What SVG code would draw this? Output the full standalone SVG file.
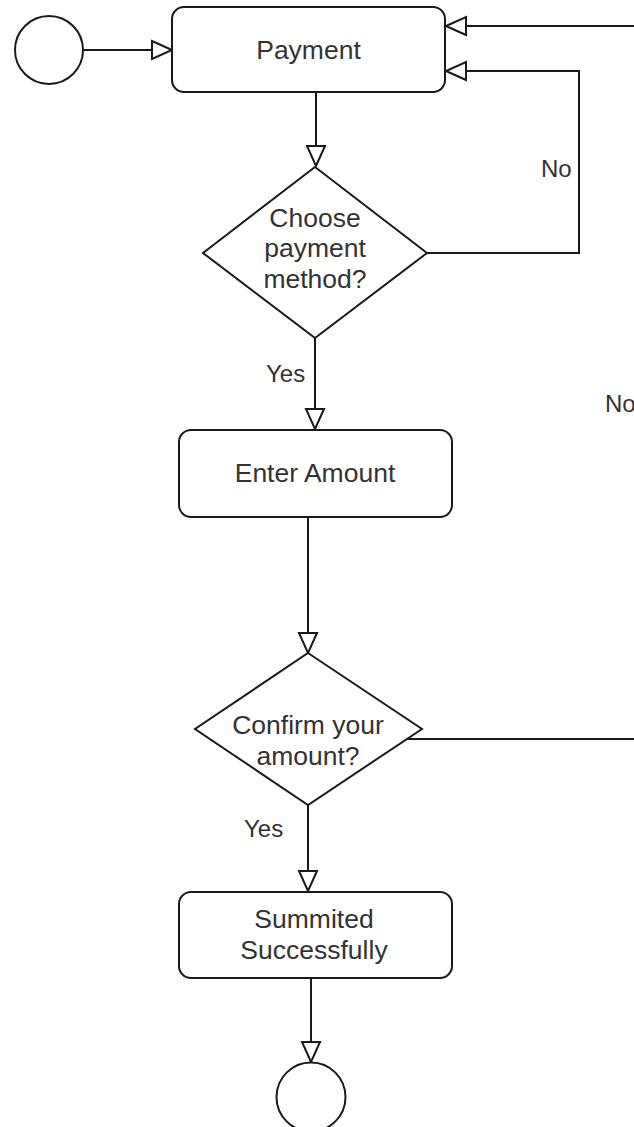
<svg xmlns="http://www.w3.org/2000/svg" width="634" height="1127" viewBox="0 0 634 1127">
  <style>
    .shape { fill: #ffffff; stroke: #1a1a1a; stroke-width: 2; }
    .edge { fill: none; stroke: #1a1a1a; stroke-width: 2; }
    .label { font-family: "Liberation Sans", Arial, sans-serif; font-size: 26.5px; fill: #333333; text-anchor: middle; }
    .edge-label { font-family: "Liberation Sans", Arial, sans-serif; font-size: 24px; fill: #333333; }
  </style>
  <defs>
    <!-- open (white-filled) triangular arrowhead -->
    <marker id="open-arrow" viewBox="-2 -2 24 22" refX="20" refY="9" markerWidth="24" markerHeight="22" markerUnits="userSpaceOnUse" orient="auto">
      <path d="M0,0 L20,9 L0,18 Z" fill="#ffffff" stroke="#1a1a1a" stroke-width="2" stroke-linejoin="miter"/>
    </marker>
  </defs>
  <rect width="634" height="1127" fill="#ffffff"/>

  <!-- connectors -->
  <g id="connectors">
    <path class="edge" d="M83,50 L172,50" marker-end="url(#open-arrow)"/>
    <path class="edge" d="M640,26 L446,26" marker-end="url(#open-arrow)"/>
    <path class="edge" d="M316,92 L316,166" marker-end="url(#open-arrow)"/>
    <path class="edge" d="M427,253 L579,253 L579,71 L446,71" marker-end="url(#open-arrow)"/>
    <text class="edge-label" x="541" y="177">No</text>
    <path class="edge" d="M315,338 L315,429" marker-end="url(#open-arrow)"/>
    <text class="edge-label" x="266" y="382">Yes</text>
    <text class="edge-label" x="605" y="412">No</text>
    <path class="edge" d="M308,517 L308,653" marker-end="url(#open-arrow)"/>
    <path class="edge" d="M407,739 L640,739"/>
    <path class="edge" d="M308,805 L308,891" marker-end="url(#open-arrow)"/>
    <text class="edge-label" x="244" y="837">Yes</text>
    <path class="edge" d="M311,978 L311,1062" marker-end="url(#open-arrow)"/>
  </g>

  <!-- start node -->
  <g id="start">
    <circle class="shape" cx="49" cy="50" r="34"/>
  </g>

  <g id="payment">
    <rect class="shape" x="172" y="7" width="273" height="85" rx="12" ry="12"/>
    <text class="label" x="308.5" y="59">Payment</text>
  </g>

  <g id="choose-method">
    <polygon class="shape" points="315,167 427,253 315,338 203,253"/>
    <text class="label" x="315" y="227">Choose</text>
    <text class="label" x="315" y="257">payment</text>
    <text class="label" x="315" y="288">method?</text>
  </g>

  <g id="enter-amount">
    <rect class="shape" x="179" y="430" width="273" height="87" rx="12" ry="12"/>
    <text class="label" x="315" y="482">Enter Amount</text>
  </g>

  <g id="confirm-amount">
    <polygon class="shape" points="308,653 422,729 308,805 195,729"/>
    <text class="label" x="308" y="734">Confirm your</text>
    <text class="label" x="308" y="765">amount?</text>
  </g>

  <g id="submitted">
    <rect class="shape" x="179" y="892" width="273" height="86" rx="12" ry="12"/>
    <text class="label" x="314" y="928">Summited</text>
    <text class="label" x="314" y="959">Successfully</text>
  </g>

  <!-- end node -->
  <g id="end">
    <circle class="shape" cx="311" cy="1097" r="34.5"/>
  </g>
</svg>
